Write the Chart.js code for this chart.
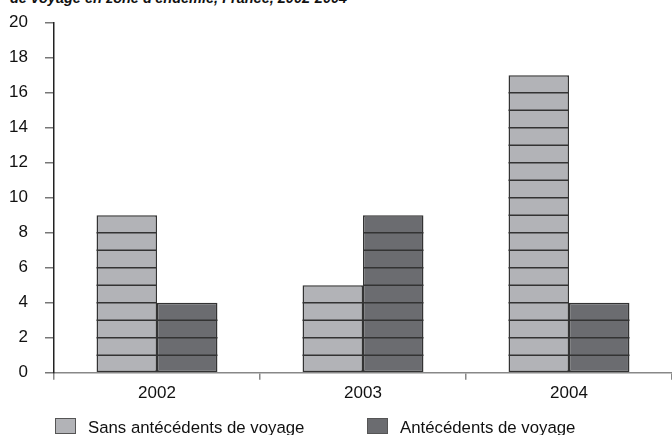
<!DOCTYPE html>
<html>
<head>
<meta charset="utf-8">
<script src="https://cdn.jsdelivr.net/npm/chart.js@4/dist/chart.umd.min.js"></script>
<style>
  html,body{margin:0;padding:0;background:#fff;overflow:hidden;}
  #wrap{position:relative;width:672px;height:435px;font-family:"Liberation Sans",Arial,sans-serif;}
  #title{position:absolute;left:10px;top:-9px;font-size:14.5px;line-height:15px;font-weight:bold;font-style:italic;color:#111;white-space:nowrap;}
  canvas{position:absolute;left:0;top:0;}
  .leg{position:absolute;top:418px;height:15px;font-size:16.8px;color:#111;white-space:nowrap;}
  .leg .box{position:absolute;left:0;top:0;width:19px;height:14px;border:1px solid #555;}
  .leg .txt{position:absolute;top:1px;line-height:18px;}
</style>
</head>
<body>
<div id="wrap">
  <div id="title">de voyage en zone d'endémie, France, 2002-2004</div>
  <canvas id="c" width="672" height="435"></canvas>
  <div class="leg" style="left:55px;"><div class="box" id="b0"></div><div class="txt" id="t0" style="left:33px;"></div></div>
  <div class="leg" style="left:367px;"><div class="box" id="b1"></div><div class="txt" id="t1" style="left:33px;"></div></div>
</div>
<script>
const categories = ['2002', '2003', '2004'];
const seriesLabels = ['Sans antécédents de voyage', 'Antécédents de voyage'];
const sansAntecedents = [9, 5, 17];
const avecAntecedents = [4, 9, 4];
const yMin = 0, yMax = 20, yStep = 2;
const seriesColors = ['#b2b3b7', '#6b6c70'];

document.getElementById('b0').style.background = seriesColors[0];
document.getElementById('b1').style.background = seriesColors[1];
document.getElementById('t0').textContent = seriesLabels[0];
document.getElementById('t1').textContent = seriesLabels[1];

const unitLines = {
  id: 'unitLines',
  afterDatasetsDraw(chart) {
    const ctx = chart.ctx, ys = chart.scales.y;
    chart.data.datasets.forEach((ds, i) => {
      const meta = chart.getDatasetMeta(i);
      meta.data.forEach((bar, j) => {
        const v = ds.data[j];
        const p = bar.getProps(['x', 'width'], true);
        ctx.save();
        ctx.strokeStyle = '#333';
        ctx.lineWidth = 1.5;
        for (let k = 1; k < v; k++) {
          const py = ys.getPixelForValue(k);
          ctx.beginPath();
          ctx.moveTo(p.x - p.width / 2, py);
          ctx.lineTo(p.x + p.width / 2, py);
          ctx.stroke();
        }
        ctx.restore();
      });
    });
  }
};

const xFont = {family: '"Liberation Sans", Arial, sans-serif', size: 17};
const yFont = {family: '"Liberation Sans", Arial, sans-serif', size: 17, lineHeight: 0.5};

new Chart(document.getElementById('c'), {
  type: 'bar',
  data: {
    labels: categories,
    datasets: [
      {label: seriesLabels[0], data: sansAntecedents, backgroundColor: seriesColors[0], borderColor: '#333', borderWidth: 1.5, borderSkipped: false},
      {label: seriesLabels[1], data: avecAntecedents, backgroundColor: seriesColors[1], borderColor: '#333', borderWidth: 1.5, borderSkipped: false}
    ]
  },
  options: {
    responsive: false,
    animation: false,
    layout: {padding: {top: 22.7, left: 0, right: 0, bottom: 0}},
    plugins: {legend: {display: false}, tooltip: {enabled: false}},
    datasets: {bar: {barPercentage: 1, categoryPercentage: 0.587}},
    scales: {
      x: {
        grid: {offset: true, drawOnChartArea: false, drawTicks: true, tickLength: 7, color: '#888', lineWidth: 1.5},
        border: {color: '#888', width: 1.5},
        ticks: {color: '#111', font: xFont, padding: 3},
        afterFit(s) { s.height = 62.3; }
      },
      y: {
        min: yMin, max: yMax,
        grid: {drawOnChartArea: false, drawTicks: true, tickLength: 9, color: '#777', lineWidth: 1.5},
        border: {color: '#222', width: 1.5},
        ticks: {stepSize: yStep, color: '#111', font: yFont, padding: 17},
        afterFit(s) { s.width = 54; }
      }
    }
  },
  plugins: [unitLines]
});
</script>
</body>
</html>
